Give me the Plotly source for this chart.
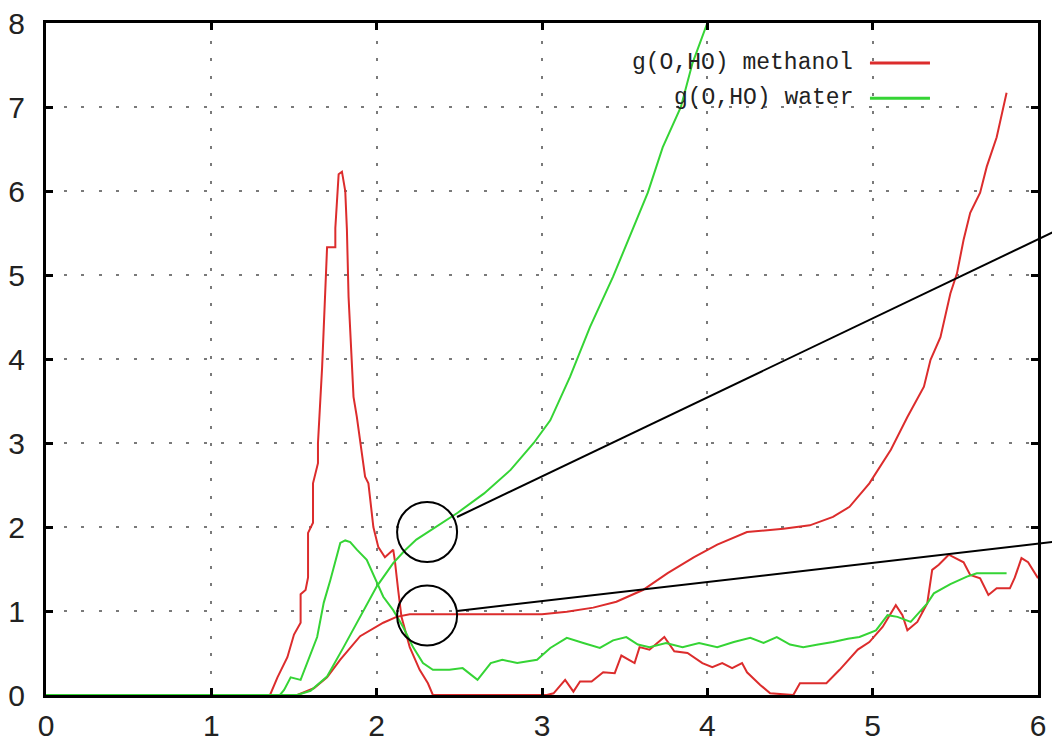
import plotly.graph_objects as go

# ---------------- data ----------------
meth_g_x = [0, 1.355, 1.40, 1.46, 1.50, 1.54, 1.54, 1.57, 1.585, 1.585, 1.615, 1.615, 1.645, 1.645,
            1.67, 1.69, 1.70, 1.75, 1.75, 1.77, 1.79, 1.81, 1.82, 1.83, 1.85, 1.86, 1.88, 1.90, 1.93,
            1.95, 1.98, 2.01, 2.05, 2.10, 2.11, 2.13, 2.15, 2.20, 2.26, 2.31, 2.34, 3.03, 3.07, 3.14,
            3.19, 3.23, 3.30, 3.37, 3.44, 3.48, 3.56, 3.59, 3.65, 3.74, 3.80, 3.88, 3.97, 4.03, 4.09,
            4.15, 4.21, 4.24, 4.32, 4.38, 4.52, 4.56, 4.72, 4.80, 4.91, 4.98, 5.06, 5.14, 5.18, 5.21,
            5.27, 5.33, 5.36, 5.40, 5.46, 5.55, 5.59, 5.65, 5.70, 5.75, 5.83, 5.86, 5.90, 5.94, 6.0]
meth_g_y = [0, 0, 0.21, 0.45, 0.72, 0.86, 1.2, 1.25, 1.4, 1.93, 2.05, 2.52, 2.76, 3.0,
            3.9, 4.82, 5.33, 5.33, 5.56, 6.2, 6.23, 6.0, 5.54, 4.74, 4.02, 3.55, 3.31, 3.0, 2.6,
            2.52, 2.0, 1.76, 1.64, 1.73, 1.6, 1.25, 0.93, 0.57, 0.3, 0.14, 0, 0, 0.02, 0.18,
            0.04, 0.16, 0.16, 0.27, 0.26, 0.47, 0.38, 0.57, 0.54, 0.69, 0.52, 0.5, 0.38, 0.33, 0.38,
            0.32, 0.38, 0.27, 0.12, 0.02, 0, 0.14, 0.14, 0.3, 0.54, 0.63, 0.81, 1.07, 0.95, 0.77,
            0.87, 1.09, 1.49, 1.55, 1.67, 1.58, 1.43, 1.39, 1.19, 1.27, 1.27, 1.4, 1.63, 1.58, 1.39]

water_g_x = [0, 1.415, 1.44, 1.48, 1.54, 1.57, 1.64, 1.68, 1.72, 1.78, 1.81, 1.84, 1.88, 1.94,
             1.99, 2.04, 2.10, 2.16, 2.22, 2.28, 2.34, 2.44, 2.52, 2.61, 2.69, 2.76, 2.85, 2.97,
             3.05, 3.15, 3.25, 3.35, 3.43, 3.51, 3.58, 3.65, 3.75, 3.85, 3.95, 4.06, 4.16, 4.26,
             4.34, 4.42, 4.50, 4.58, 4.67, 4.76, 4.85, 4.92, 5.02, 5.09, 5.15, 5.23, 5.33, 5.37,
             5.47, 5.57, 5.63, 5.72, 5.81]
water_g_y = [0, 0, 0.06, 0.21, 0.18, 0.33, 0.69, 1.1, 1.37, 1.81, 1.84, 1.82, 1.73, 1.61,
             1.4, 1.17, 1.01, 0.81, 0.57, 0.38, 0.3, 0.3, 0.32, 0.18, 0.38, 0.42, 0.38, 0.42,
             0.56, 0.68, 0.62, 0.56, 0.65, 0.69, 0.6, 0.57, 0.62, 0.57, 0.62, 0.57, 0.63, 0.68,
             0.62, 0.69, 0.6, 0.57, 0.6, 0.63, 0.67, 0.69, 0.77, 0.95, 0.93, 0.87, 1.09, 1.21,
             1.32, 1.41, 1.45, 1.45, 1.45]

meth_n_x = [0, 1.52, 1.62, 1.70, 1.78, 1.90, 2.04, 2.12, 2.20, 3.0, 3.15, 3.31, 3.45, 3.61, 3.76,
            3.92, 4.06, 4.24, 4.46, 4.62, 4.76, 4.86, 4.98, 5.11, 5.21, 5.31, 5.35, 5.41, 5.47,
            5.51, 5.55, 5.59, 5.65, 5.69, 5.75, 5.81]
meth_n_y = [0, 0, 0.08, 0.21, 0.42, 0.70, 0.86, 0.93, 0.96, 0.96, 0.99, 1.04, 1.11, 1.25, 1.45,
            1.64, 1.79, 1.94, 1.98, 2.02, 2.12, 2.24, 2.52, 2.92, 3.31, 3.67, 3.99, 4.26, 4.78,
            5.02, 5.42, 5.74, 5.98, 6.29, 6.64, 7.17]

water_n_x = [0, 1.52, 1.60, 1.70, 1.80, 1.90, 2.0, 2.10, 2.17, 2.24, 2.37, 2.49, 2.65, 2.81, 2.95,
             3.05, 3.17, 3.29, 3.43, 3.55, 3.64, 3.73, 3.84, 3.91, 4.0]
water_n_y = [0, 0, 0.05, 0.22, 0.57, 0.93, 1.29, 1.57, 1.72, 1.85, 2.02, 2.17, 2.4, 2.68, 3.0,
             3.27, 3.79, 4.38, 4.98, 5.54, 5.98, 6.52, 7.0, 7.52, 8.0]

x_ticks = [0, 1, 2, 3, 4, 5, 6]
y_ticks = [0, 1, 2, 3, 4, 5, 6, 7, 8]
legend_labels = ["g(O,HO) methanol", "g(O,HO) water"]

# circled points (data units) and the end of their call-out lines
circle_centers = [(2.305, 1.94), (2.305, 0.946)]
callout_starts = [(2.486, 2.119), (2.486, 1.0)]
callout_ends = [(6.194, 5.607), (6.194, 1.846)]

# ---------------- style ----------------
RED = "#dc2c2c"
GREEN = "#35d435"
X_RANGE = [0, 6]
Y_RANGE = [0, 8]

fig = go.Figure()
for xs, ys, col in [(meth_g_x, meth_g_y, RED), (water_g_x, water_g_y, GREEN),
                    (meth_n_x, meth_n_y, RED), (water_n_x, water_n_y, GREEN)]:
    fig.add_trace(go.Scatter(x=xs, y=ys, mode="lines", line=dict(color=col, width=2),
                             showlegend=False, hoverinfo="skip", cliponaxis=True))

tick_font = dict(family="Liberation Sans Narrow, Arial Narrow, Liberation Sans, Arial",
                 size=30, color="#222222")
axis_common = dict(showline=True, linecolor="black", linewidth=3, mirror="allticks",
                   ticks="inside", ticklen=7, tickwidth=3, tickcolor="black",
                   showgrid=True, gridcolor="#7a7a7a", gridwidth=2, griddash="3px,14.5px",
                   zeroline=False, tickfont=tick_font, fixedrange=True, automargin=False)

fig.update_layout(
    width=1052, height=744,
    margin=dict(l=46, r=14, t=23, b=49, autoexpand=False),
    paper_bgcolor="white", plot_bgcolor="white",
    xaxis=dict(range=X_RANGE, tickvals=x_ticks, ticktext=[str(v) for v in x_ticks],
               ticklabelstandoff=2, **axis_common),
    yaxis=dict(range=Y_RANGE, tickvals=y_ticks, ticktext=[str(v) for v in y_ticks],
               ticklabelstandoff=12, **axis_common),
    showlegend=False,
)


def to_paper(x, y):
    return ((x - X_RANGE[0]) / (X_RANGE[1] - X_RANGE[0]),
            (y - Y_RANGE[0]) / (Y_RANGE[1] - Y_RANGE[0]))


shapes = []
for cx, cy in circle_centers:
    shapes.append(dict(type="circle", xref="x", yref="y", xsizemode="pixel", ysizemode="pixel",
                       xanchor=cx, yanchor=cy, x0=-30, x1=30, y0=-30, y1=30,
                       line=dict(color="black", width=2), layer="above"))
for (sx, sy), (ex, ey) in zip(callout_starts, callout_ends):
    px0, py0 = to_paper(sx, sy)
    px1, py1 = to_paper(ex, ey)
    shapes.append(dict(type="line", xref="paper", yref="paper", x0=px0, y0=py0, x1=px1, y1=py1,
                       line=dict(color="black", width=2), layer="above"))

# legend (gnuplot style: text on the left, sample line on the right)
legend_y = [0.9405, 0.888]
annotations = []
for label, col, ly in zip(legend_labels, [RED, GREEN], legend_y):
    annotations.append(dict(xref="paper", yref="paper", x=0.8155, y=ly, text=label,
                            showarrow=False, xanchor="right", yanchor="middle",
                            font=dict(family="Liberation Mono, DejaVu Sans Mono, monospace",
                                      size=23, color="#222222")))
    shapes.append(dict(type="line", xref="paper", yref="paper", x0=0.8306, x1=0.8911,
                       y0=ly, y1=ly, line=dict(color=col, width=3)))

fig.update_layout(shapes=shapes, annotations=annotations)
fig.write_html("out.html")
